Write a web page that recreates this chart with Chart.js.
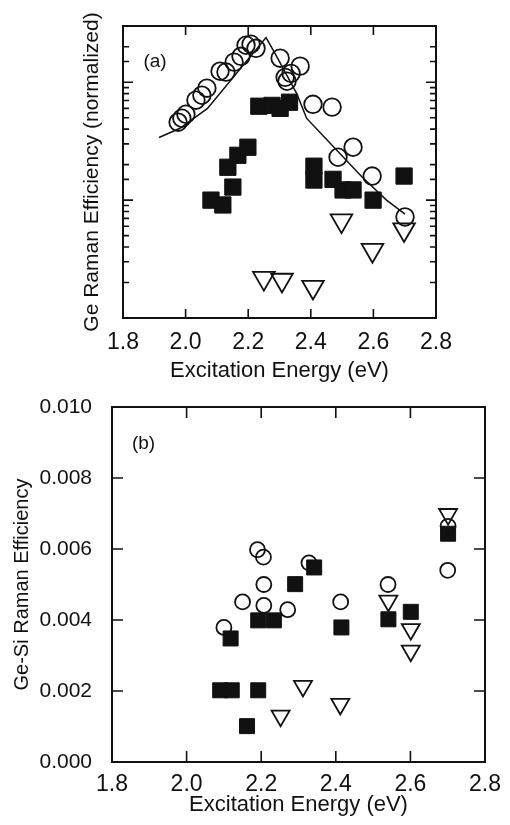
<!DOCTYPE html>
<html>
<head>
<meta charset="utf-8">
<script src="https://cdn.jsdelivr.net/npm/chart.js@4.4.1/dist/chart.umd.min.js"></script>
<style>
  body { margin: 0; background: #fff; }
  #wrap { position: relative; width: 510px; height: 825px; }
  canvas { position: absolute; left: 0; }
  #chartA { top: 0; }
  #chartB { top: 390px; }
</style>
</head>
<body>
<div id="wrap">
  <canvas id="chartA" width="510" height="390"></canvas>
  <canvas id="chartB" width="510" height="435"></canvas>
</div>
<script>
// panel (a): Ge Raman efficiency, log scale
const circA_x = [1.976, 1.988, 2.001, 2.033, 2.052, 2.068, 2.110, 2.129, 2.155, 2.177, 2.193, 2.209, 2.225,
                 2.302, 2.366, 2.318, 2.337, 2.324, 2.407, 2.468, 2.487, 2.535, 2.596, 2.701];
const circA_y = [45.8, 49.5, 53.5, 70.4, 77.6, 89, 124, 122, 148, 166, 206, 210, 194,
                 160, 137, 110, 119, 102, 65, 61.5, 23.1, 28.1, 16, 7.2];
const sqA_x = [2.081, 2.119, 2.151, 2.135, 2.167, 2.199, 2.234, 2.276, 2.302, 2.332,
               2.410, 2.410, 2.471, 2.503, 2.535, 2.599, 2.698];
const sqA_y = [10, 9.1, 12.9, 19.0, 24, 28.1, 62.6, 63.6, 60, 67.7,
               19.4, 14.8, 15, 12.2, 12.2, 10, 16];
const triA_x = [2.250, 2.308, 2.407, 2.498, 2.597, 2.698];
const triA_y = [2.18, 2.1, 1.83, 6.7, 3.76, 5.63];
const lineA_x = [1.915, 1.982, 2.070, 2.257, 2.286, 2.355, 2.387, 2.483, 2.563, 2.642, 2.701];
const lineA_y = [34, 40.7, 60, 239, 175, 80, 49.3, 26.5, 15.8, 10, 7.6];

// panel (b): Ge-Si Raman efficiency
const circB_x = [2.100, 2.150, 2.190, 2.206, 2.207, 2.207, 2.271, 2.328, 2.413, 2.540, 2.700, 2.701];
const circB_y = [0.00379, 0.00451, 0.00598, 0.00577, 0.00500, 0.00441, 0.00429, 0.00561, 0.00451, 0.00500, 0.00540, 0.00664];
const sqB_x = [2.090, 2.121, 2.192, 2.162, 2.118, 2.192, 2.234, 2.291, 2.342, 2.415, 2.541, 2.601, 2.701];
const sqB_y = [0.00202, 0.00202, 0.00202, 0.00101, 0.00348, 0.00399, 0.00399, 0.00501, 0.00548, 0.00379, 0.00402, 0.00423, 0.00643];
const triB_x = [2.252, 2.312, 2.412, 2.541, 2.601, 2.601, 2.701];
const triB_y = [0.0013, 0.00214, 0.00163, 0.00454, 0.00374, 0.00313, 0.00698];

const xTicks = [1.8, 2.0, 2.2, 2.4, 2.6, 2.8];
const yTicksB = [0, 0.002, 0.004, 0.006, 0.008, 0.010];

const FONT = "'Liberation Sans', Arial, Helvetica, sans-serif";
const pts = (xs, ys) => xs.map((x, i) => ({x: x, y: ys[i]}));

// box + inward ticks on all four sides, plus the panel letter
const frame = {
  id: 'frame',
  afterDatasetsDraw(chart, args, o) {
    const {ctx, chartArea: a, scales} = chart;
    ctx.save();
    ctx.strokeStyle = '#111';
    ctx.lineWidth = 1.6;
    ctx.beginPath();
    scales.x.ticks.forEach(t => {
      const px = scales.x.getPixelForValue(t.value);
      ctx.moveTo(px, a.bottom); ctx.lineTo(px, a.bottom - o.xLen);
      ctx.moveTo(px, a.top); ctx.lineTo(px, a.top + o.xLen);
    });
    scales.y.ticks.forEach(t => {
      const py = scales.y.getPixelForValue(t.value);
      const lg = Math.log10(t.value);
      const major = o.allMajor || Math.abs(lg - Math.round(lg)) < 1e-9;
      const len = major ? o.yMajor : o.yMinor;
      ctx.moveTo(a.left, py); ctx.lineTo(a.left + len, py);
      ctx.moveTo(a.right, py); ctx.lineTo(a.right - len, py);
    });
    ctx.stroke();
    ctx.lineWidth = 2;
    ctx.strokeRect(a.left, a.top, a.width, a.height);
    ctx.fillStyle = '#111';
    ctx.font = o.labelFont;
    ctx.textAlign = 'center';
    ctx.textBaseline = 'middle';
    ctx.fillText(o.label, a.left + o.lx, a.top + o.ly);
    ctx.restore();
  }
};

const circle = (r) => ({pointStyle: 'circle', radius: r, borderWidth: 1.8, borderColor: '#111', backgroundColor: 'rgba(0,0,0,0)'});
const square = (r) => ({pointStyle: 'rect', radius: r, borderWidth: 1, borderColor: '#111', backgroundColor: '#111'});
const tri = (r) => ({pointStyle: 'triangle', rotation: 180, radius: r, borderWidth: 1.8, borderColor: '#111', backgroundColor: 'rgba(0,0,0,0)'});

function xScale(tickPad, titlePad, height) {
  return {
    type: 'linear', min: 1.8, max: 2.8,
    afterBuildTicks: s => { s.ticks = xTicks.map(v => ({value: v})); },
    afterFit: s => { s.height = height; },
    grid: {display: false, drawTicks: false},
    border: {display: false},
    ticks: {padding: tickPad, color: '#111', font: {family: FONT, size: 23},
            callback: v => v.toFixed(1)},
    title: {display: true, text: 'Excitation Energy (eV)', color: '#111',
            font: {family: FONT, size: 22}, padding: {top: 0, bottom: titlePad}}
  };
}

Chart.defaults.animation = false;

new Chart(document.getElementById('chartA'), {
  type: 'scatter',
  data: {
    datasets: [
      {data: pts(lineA_x, lineA_y), showLine: true, pointRadius: 0, borderColor: '#111', borderWidth: 1.5, fill: false},
      Object.assign({data: pts(circA_x, circA_y)}, circle(8.8)),
      Object.assign({data: pts(sqA_x, sqA_y)}, square(11.5)),
      Object.assign({data: pts(triA_x, triA_y)}, tri(12.5))
    ]
  },
  options: {
    responsive: false,
    devicePixelRatio: 1,
    layout: {padding: {top: 26, right: 74, left: 0, bottom: 0}},
    plugins: {
      legend: {display: false}, tooltip: {enabled: false},
      frame: {xLen: 9, yMajor: 10, yMinor: 6, label: '(a)', lx: 32, ly: 36, labelFont: '19px ' + FONT}
    },
    scales: {
      x: xScale(11, 6, 72),
      y: {
        type: 'logarithmic', min: 1, max: 300,
        afterFit: s => { s.width = 123; s.paddingTop = 0; s.paddingBottom = 0; },
        grid: {display: false, drawTicks: false},
        border: {display: false},
        ticks: {display: false},
        title: {display: true, text: 'Ge Raman Efficiency (normalized)', color: '#111',
                font: {family: FONT, size: 21}, padding: {top: 80, bottom: 0}}
      }
    }
  },
  plugins: [frame]
});

new Chart(document.getElementById('chartB'), {
  type: 'scatter',
  data: {
    datasets: [
      Object.assign({data: pts(circB_x, circB_y)}, circle(7.5)),
      Object.assign({data: pts(sqB_x, sqB_y)}, square(10.6)),
      Object.assign({data: pts(triB_x, triB_y)}, tri(10.4))
    ]
  },
  options: {
    responsive: false,
    devicePixelRatio: 1,
    layout: {padding: {top: 17, right: 20, left: 0, bottom: 0}},
    plugins: {
      legend: {display: false}, tooltip: {enabled: false},
      frame: {xLen: 11, yMajor: 11, yMinor: 11, allMajor: true, label: '(b)', lx: 31.5, ly: 36.5, labelFont: '19px ' + FONT}
    },
    scales: {
      x: xScale(9, 7, 63),
      y: {
        type: 'linear', min: 0, max: 0.010,
        afterBuildTicks: s => { s.ticks = yTicksB.map(v => ({value: v})); },
        afterFit: s => { s.width = 112; s.paddingTop = 0; s.paddingBottom = 0; },
        grid: {display: false, drawTicks: false},
        border: {display: false},
        ticks: {padding: 20, color: '#111', font: {family: FONT, size: 21},
                callback: v => v.toFixed(3)},
        title: {display: true, text: 'Ge-Si Raman Efficiency', color: '#111',
                font: {family: FONT, size: 20}, padding: {top: 10, bottom: 0}}
      }
    }
  },
  plugins: [frame]
});
</script>
</body>
</html>
